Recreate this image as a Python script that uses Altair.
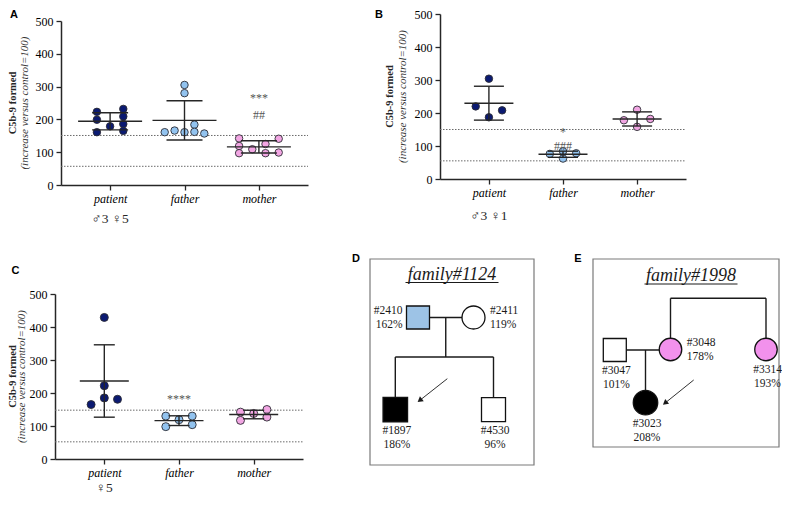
import math
import altair as alt
import pandas as pd

SERIF = "Liberation Serif"
SANS = "Liberation Sans"
INK = "#262626"
DOT_EDGE = "#2b2b33"
REF_GREY = "#6a6a6a"

# ---------------- data ----------------
categories = ["patient", "father", "mother"]
category_colors = ["#0b1a72", "#92c3ef", "#f2a6e3"]
y_ticks = [0, 100, 200, 300, 400, 500]
y_title = "C5b-9 formed"
y_subtitle = "(increase versus control=100)"

# Panel A
a_patient = [223, 199, 161, 179, 232, 209, 186, 165]
a_father = [305, 280, 161, 166, 161, 184, 162, 157]
a_mother = [142, 119, 97, 109, 125, 97, 141, 99]
a_patient_slot = [-2, -2, -2, 0, 2, 2, 2, 2]
a_father_slot = [0, 0, -3, -1.5, 0, 1.5, 1.5, 3]
a_mother_slot = [-3, -3, -3, -1, 1, 1, 3, 3]
a_reference = [151, 57]
a_sex = "♂3 ♀5"
a_marks = ["***", "##"]
a_marks_cat = [2, 2]
a_marks_value = [265, 212]

# Panel B
b_patient = [304, 220, 208, 187]
b_father = [84, 76, 78, 62]
b_mother = [210, 178, 182, 158]
b_patient_slot = [0, -2, 2, 0]
b_father_slot = [0, -2, 2, 0]
b_mother_slot = [0, -2, 2, 0]
b_reference = [150, 55]
b_sex = "♂3 ♀1"
b_marks = ["*", "###"]
b_marks_cat = [1, 1]
b_marks_value = [141, 99]

# Panel C
c_patient = [429, 222, 185, 165, 181]
c_father = [130, 119, 130, 98, 104]
c_mother = [142, 117, 138, 150, 127]
c_patient_slot = [0, 0, 0, -2, 2]
c_father_slot = [-2, 0, 2, -2, 2]
c_mother_slot = [-2, -2, 0, 2, 2]
c_reference = [148, 52]
c_sex = "♀5"
c_marks = ["****"]
c_marks_cat = [1]
c_marks_value = [181]

# Pedigree D
d_title = "family#1124"
d_ids = ["#2410", "#2411", "#1897", "#4530"]
d_pct = ["162%", "119%", "186%", "96%"]
d_sex = ["M", "F", "M", "M"]
d_fill = ["#9dc3e6", "#ffffff", "#000000", "#ffffff"]
d_proband = "#1897"

# Pedigree E
e_title = "family#1998"
e_ids = ["#3047", "#3048", "#3314", "#3023"]
e_pct = ["101%", "178%", "193%", "208%"]
e_sex = ["M", "F", "F", "F"]
e_fill = ["#ffffff", "#f291ec", "#f291ec", "#000000"]
e_proband = "#3023"

# ---------------- dot panels ----------------
X_MIN, X_MAX = -0.66, 2.66
SLOT_PX = 6.6
label_expr = "[" + ",".join(f"'{c}'" for c in categories) + "][datum.value]"


def dot_panel(groups, slots, refs, sex, marks, marks_cat, marks_val, letter, *,
              width, height, xr, yr, yaxis_off=0, xaxis_off=0, mean_half=24,
              cap_half=14, dot_size=56, title_x=-48, sub_x=-36, letter_xy=(-40, 0),
              sex_dy=34):
    step = (xr[1] - xr[0]) / (X_MAX - X_MIN)
    rows = []
    for i, (vals, sl) in enumerate(zip(groups, slots)):
        for v, s in zip(vals, sl):
            rows.append({"cat": categories[i], "idx": i, "value": v,
                         "xpos": i + s * SLOT_PX / step})
    pts = pd.DataFrame(rows)
    xs = alt.Scale(domain=[X_MIN, X_MAX], range=list(xr), nice=False, zero=False)
    ys = alt.Scale(domain=[0, 500], range=list(yr), nice=False, zero=False)
    xaxis = alt.Axis(values=[0, 1, 2], labelExpr=label_expr, title=None, grid=False,
                     labelFont=SERIF, labelFontStyle="italic", labelFontSize=12,
                     labelColor="black", tickSize=5, tickColor=INK, tickWidth=1.3,
                     domainColor=INK, domainWidth=1.5, labelPadding=3, offset=xaxis_off)
    yaxis = alt.Axis(values=y_ticks, title=None, grid=False, labelFont=SERIF,
                     labelFontSize=12, labelColor="black", tickSize=5, tickColor=INK,
                     tickWidth=1.3, domainColor=INK, domainWidth=1.5, labelPadding=3,
                     offset=yaxis_off)

    def X(f):
        return alt.X(f, scale=xs, axis=xaxis)

    def Y(f):
        return alt.Y(f, scale=ys, axis=yaxis)

    ref_df = pd.DataFrame({"value": refs, "x0": [X_MIN] * len(refs), "x1": [X_MAX] * len(refs)})
    ref = alt.Chart(ref_df).mark_rule(color=REF_GREY, strokeWidth=1, strokeDash=[1.5, 1.5]).encode(
        x=X("x0:Q"), x2="x1:Q", y=Y("value:Q"))

    dots = alt.Chart(pts).mark_point(shape="circle", filled=True, size=dot_size, stroke=DOT_EDGE,
                                     strokeWidth=0.9, opacity=1).encode(
        x=X("xpos:Q"), y=Y("value:Q"),
        fill=alt.Fill("cat:N", scale=alt.Scale(domain=categories, range=category_colors), legend=None))

    agg = alt.Chart(pts).transform_aggregate(
        m="mean(value)", sd="stdev(value)", groupby=["idx"]
    ).transform_calculate(
        lo="datum.m - datum.sd", hi="datum.m + datum.sd",
        ml=f"datum.idx - {mean_half / step}", mr=f"datum.idx + {mean_half / step}",
        cl=f"datum.idx - {cap_half / step}", cr=f"datum.idx + {cap_half / step}")
    bar = dict(color=INK, strokeWidth=1.4)
    mean_rule = agg.mark_rule(**bar).encode(x=X("ml:Q"), x2="mr:Q", y=Y("m:Q"))
    sd_rule = agg.mark_rule(**bar).encode(x=X("idx:Q"), y=Y("lo:Q"), y2="hi:Q")
    cap_lo = agg.mark_rule(**bar).encode(x=X("cl:Q"), x2="cr:Q", y=Y("lo:Q"))
    cap_hi = agg.mark_rule(**bar).encode(x=X("cl:Q"), x2="cr:Q", y=Y("hi:Q"))

    mk = pd.DataFrame({"idx": marks_cat, "value": marks_val, "t": marks})
    marks_layer = alt.Chart(mk).mark_text(font=SERIF, fontSize=12, color="#555555").encode(
        x=X("idx:Q"), y=Y("value:Q"), text="t:N")

    sx = pd.DataFrame({"idx": [0], "t": [sex]})
    sex_layer = alt.Chart(sx).mark_text(font=SERIF, fontSize=13.5, color=INK).encode(
        x=X("idx:Q"), y=alt.value(yr[0] + sex_dy), text="t:N")

    ymid = (yr[0] + yr[1]) / 2
    t1 = alt.Chart(pd.DataFrame({"t": [y_title]})).mark_text(
        font=SERIF, fontWeight="bold", fontSize=10.5, angle=270, color=INK).encode(
        x=alt.value(title_x), y=alt.value(ymid), text="t:N")
    t2 = alt.Chart(pd.DataFrame({"t": [y_subtitle]})).mark_text(
        font=SERIF, fontStyle="italic", fontSize=11, angle=270, color="#333333").encode(
        x=alt.value(sub_x), y=alt.value(ymid), text="t:N")
    lt = alt.Chart(pd.DataFrame({"t": [letter]})).mark_text(
        font=SANS, fontWeight="bold", fontSize=11, color="black").encode(
        x=alt.value(letter_xy[0]), y=alt.value(letter_xy[1]), text="t:N")

    return alt.layer(ref, dots, mean_rule, sd_rule, cap_lo, cap_hi, marks_layer, sex_layer,
                     t1, t2, lt).properties(width=width, height=height)


COL1 = 307
panel_a = dot_panel([a_patient, a_father, a_mother], [a_patient_slot, a_father_slot, a_mother_slot],
                    a_reference, a_sex, a_marks, a_marks_cat, a_marks_value, "A",
                    width=COL1, height=171, xr=(6, 253), yr=(171, 7), yaxis_off=-6,
                    mean_half=32, cap_half=18, dot_size=56, title_x=-42, sub_x=-30,
                    letter_xy=(-41, 1), sex_dy=34)
panel_b = dot_panel([b_patient, b_father, b_mother], [b_patient_slot, b_father_slot, b_mother_slot],
                    b_reference, b_sex, b_marks, b_marks_cat, b_marks_value, "B",
                    width=324, height=171, xr=(78, 324), yr=(165, 0), yaxis_off=-78,
                    xaxis_off=-6, mean_half=24.5, cap_half=15, dot_size=56, title_x=28,
                    sub_x=41, letter_xy=(17, 1), sex_dy=37)
panel_c = dot_panel([c_patient, c_father, c_mother], [c_patient_slot, c_father_slot, c_mother_slot],
                    c_reference, c_sex, c_marks, c_marks_cat, c_marks_value, "C",
                    width=COL1, height=200, xr=(0, 248), yr=(200, 35),
                    mean_half=24.5, cap_half=10.5, dot_size=64, title_x=-42, sub_x=-33,
                    letter_xy=(-39.5, 12), sex_dy=29)

# ---------------- pedigrees ----------------
DE_W, DE_H = 419, 206
D_BOX = (8, 0, 164, 206)
E_BOX = (231, 0, 186, 188)
# layout in box coordinates: centre x, centre y, symbol size, label side
d_layout = {"#2410": (48, 58.5, 23, "left"), "#2411": (103.5, 58.5, 23, "right"),
            "#1897": (25.3, 150.7, 24.5, "below"), "#4530": (123.5, 150.7, 24, "below")}
e_layout = {"#3047": (21.8, 91, 23, "below"), "#3048": (77.5, 90.5, 22.5, "right"),
            "#3314": (173, 90.5, 22.5, "below"), "#3023": (52.5, 143.7, 24.5, "below")}
d_sib_y = 98
e_top_y = 39.3
d_arrow = ((52, -31), (22.4, -7.7))
e_arrow = ((48.2, -22.7), (17.5, 2))

node_rows, label_rows, seg_rows, head_rows, box_rows, title_rows, uline_rows = [], [], [], [], [], [], []


def add_family(ids, pct, sex, fill, layout, box, title, title_y, uline_y, proband, arrow):
    bx, by, bw, bh = box
    box_rows.append({"x": bx, "x2": bx + bw, "y": by, "y2": by + bh})
    nodes = {}
    for i, p, s, f in zip(ids, pct, sex, fill):
        cx, cy, sz, side = layout[i]
        n = {"id": i, "pct": p, "shape": "square" if s == "M" else "circle", "fill": f,
             "x": bx + cx, "y": by + cy, "size": sz * sz, "half": sz / 2, "side": side}
        nodes[i] = n
        node_rows.append(n)
        if side == "left":
            lx, al, ly = n["x"] - n["half"] - 4, "right", n["y"] - 7
        elif side == "right":
            lx, al, ly = n["x"] + n["half"] + 5, "left", n["y"] - 7
        else:
            lx, al, ly = n["x"] + 1.5, "center", n["y"] + n["half"] + 9.5
        label_rows.append({"x": lx, "y": ly, "t": i, "al": al})
        label_rows.append({"x": lx, "y": ly + 14, "t": p, "al": al})
    cx = bx + 82 if bw < 170 else bx + 98
    title_rows.append({"x": cx, "y": by + title_y, "t": title})
    uline_rows.append({"x": cx - 46.5, "x2": cx + 46.5, "y": by + uline_y})
    pb = nodes[proband]
    tail = (pb["x"] + arrow[0][0], pb["y"] + arrow[0][1])
    tip = (pb["x"] + arrow[1][0], pb["y"] + arrow[1][1])
    dx, dy = tip[0] - tail[0], tip[1] - tail[1]
    ln = math.hypot(dx, dy)
    ux, uy = dx / ln, dy / ln
    seg_rows.append({"x": tail[0], "y": tail[1], "x2": tip[0] - ux * 3, "y2": tip[1] - uy * 3, "w": 0.9})
    head_rows.append({"x": tip[0] - ux * 3.5, "y": tip[1] - uy * 3.5,
                      "ang": (math.degrees(math.atan2(ux, -uy)) + 360) % 360})
    return nodes


def seg(a, b, c, d, w=1.4):
    seg_rows.append({"x": a, "y": b, "x2": c, "y2": d, "w": w})


dn = add_family(d_ids, d_pct, d_sex, d_fill, d_layout, D_BOX, d_title, 16.3, 23.5, d_proband, d_arrow)
f, m = dn["#2410"], dn["#2411"]
seg(f["x"] + f["half"], f["y"], m["x"] - m["half"], m["y"])
mid = (f["x"] + f["half"] + m["x"] - m["half"]) / 2
sib_y = D_BOX[1] + d_sib_y
seg(mid, f["y"], mid, sib_y)
kids = [dn["#1897"], dn["#4530"]]
seg(min(k["x"] for k in kids), sib_y, max(k["x"] for k in kids), sib_y)
for k in kids:
    seg(k["x"], sib_y, k["x"], k["y"] - k["half"])

en = add_family(e_ids, e_pct, e_sex, e_fill, e_layout, E_BOX, e_title, 16.7, 25, e_proband, e_arrow)
s1, s2 = en["#3048"], en["#3314"]
top_y = E_BOX[1] + e_top_y
seg(s1["x"], top_y, s2["x"], top_y)
for s in (s1, s2):
    seg(s["x"], top_y, s["x"], s["y"] - s["half"])
hu, wi, ch = en["#3047"], en["#3048"], en["#3023"]
seg(hu["x"] + hu["half"], hu["y"], wi["x"] - wi["half"], hu["y"])
seg(ch["x"], hu["y"], ch["x"], ch["y"] - ch["half"])

pxs = alt.Scale(domain=[0, DE_W], nice=False, zero=False)
pys = alt.Scale(domain=[0, DE_H], reverse=True, nice=False, zero=False)
PX = lambda f: alt.X(f, scale=pxs, axis=None)
PY = lambda f: alt.Y(f, scale=pys, axis=None)

boxes = alt.Chart(pd.DataFrame(box_rows)).mark_rect(fill="white", fillOpacity=0, stroke="#7a7a7a",
                                                     strokeWidth=1.2).encode(
    x=PX("x:Q"), x2="x2:Q", y=PY("y:Q"), y2="y2:Q")
segs = alt.Chart(pd.DataFrame(seg_rows)).mark_rule(color="#1a1a1a").encode(
    x=PX("x:Q"), y=PY("y:Q"), x2="x2:Q", y2="y2:Q",
    strokeWidth=alt.StrokeWidth("w:Q", scale=None))
heads = alt.Chart(pd.DataFrame(head_rows)).mark_point(shape="triangle", filled=True, size=38,
                                                      color="#1a1a1a", opacity=1).encode(
    x=PX("x:Q"), y=PY("y:Q"), angle=alt.Angle("ang:Q", scale=None))
nodes_df = pd.DataFrame(node_rows)
symbols = alt.Chart(nodes_df).mark_point(filled=True, stroke="#111111", strokeWidth=1.3,
                                         opacity=1).encode(
    x=PX("x:Q"), y=PY("y:Q"),
    shape=alt.Shape("shape:N", scale=None),
    fill=alt.Fill("fill:N", scale=None),
    size=alt.Size("size:Q", scale=None))
lab_df = pd.DataFrame(label_rows)
label_layers = []
for al in ["left", "right", "center"]:
    sub = lab_df[lab_df["al"] == al]
    label_layers.append(alt.Chart(sub).mark_text(font=SERIF, fontSize=11.5, align=al,
                                                  color="#1a1a1a").encode(
        x=PX("x:Q"), y=PY("y:Q"), text="t:N"))
titles = alt.Chart(pd.DataFrame(title_rows)).mark_text(font=SERIF, fontStyle="italic", fontSize=18,
                                                       color="#1a1a1a").encode(
    x=PX("x:Q"), y=PY("y:Q"), text="t:N")
ulines = alt.Chart(pd.DataFrame(uline_rows)).mark_rule(color="#1a1a1a", strokeWidth=1).encode(
    x=PX("x:Q"), x2="x2:Q", y=PY("y:Q"))
letters = alt.Chart(pd.DataFrame({"t": ["D", "E"], "x": [-6, 216], "y": [0, 0]})).mark_text(
    font=SANS, fontWeight="bold", fontSize=11, color="black").encode(
    x=PX("x:Q"), y=PY("y:Q"), text="t:N")

panel_de = alt.layer(boxes, segs, heads, symbols, *label_layers, titles, ulines, letters).properties(
    width=DE_W, height=DE_H)

chart = alt.concat(
    panel_a, panel_b, panel_c, panel_de, columns=2, bounds="flush",
    spacing=alt.RowColnumber(row=74, column=0)
).properties(padding=0).configure(background="white").configure_view(
    stroke="transparent", strokeWidth=0)

chart.save("out.html", embed_options={"renderer": "svg", "actions": False})
